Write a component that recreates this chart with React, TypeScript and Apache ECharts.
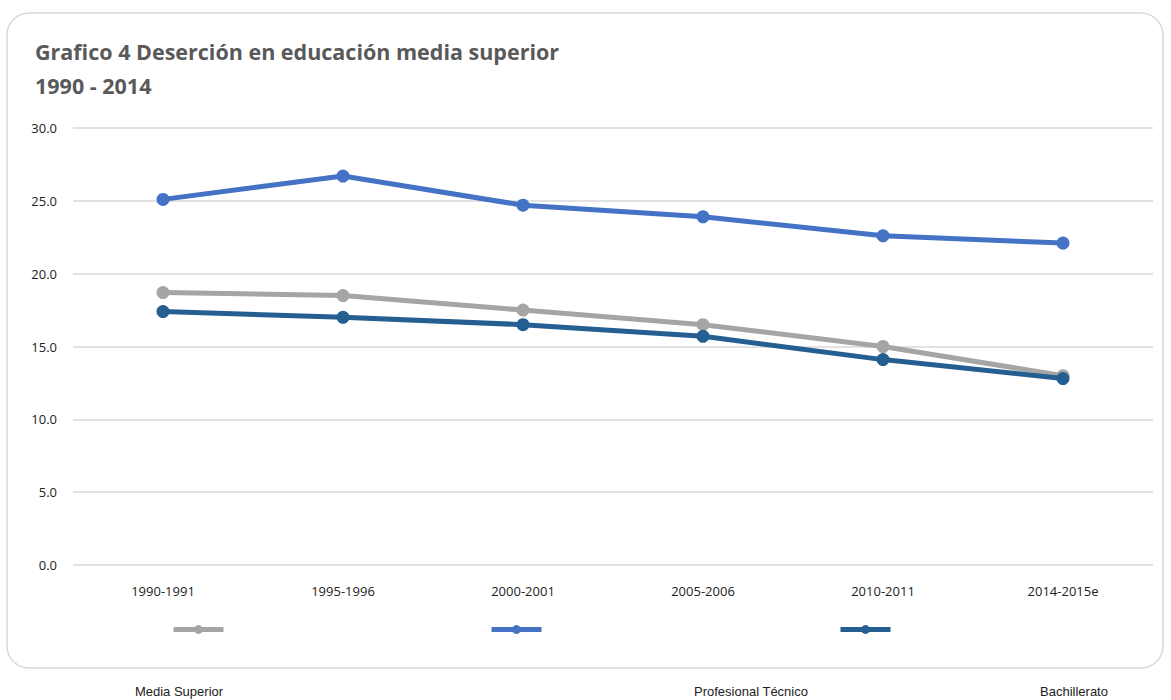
import React, { useEffect, useRef } from "react";
import * as echarts from "echarts";

const categories = ["1990-1991", "1995-1996", "2000-2001", "2005-2006", "2010-2011", "2014-2015e"];
const seriesNames = ["Media Superior", "Profesional Técnico", "Bachillerato"];
const mediaSuperior = [18.7, 18.5, 17.5, 16.5, 15.0, 13.0];
const profesionalTecnico = [25.1, 26.7, 24.7, 23.9, 22.6, 22.1];
const bachillerato = [17.4, 17.0, 16.5, 15.7, 14.1, 12.8];
const colors = ["#A5A5A5", "#4472C4", "#255E91"];
const titleText = "Grafico 4 Deserción en educación media superior\n1990 - 2014";

export default function App() {
  const ref = useRef<HTMLDivElement>(null);
  useEffect(() => {
    if (!ref.current) return;
    const chart = echarts.init(ref.current, undefined, { renderer: "svg" });
    const font = "'Open Sans', 'Liberation Sans', sans-serif";
    const dataSets = [mediaSuperior, profesionalTecnico, bachillerato];
    const legendLefts = [166, 484, 833];
    const nameXs = [179, 751, 1074];
    chart.setOption({
      animation: false,
      backgroundColor: "#ffffff",
      textStyle: { fontFamily: font },
      title: {
        text: titleText,
        left: 30,
        top: 29,
        textStyle: { fontSize: 21.5, fontWeight: "bold", color: "#595959", lineHeight: 34, fontFamily: font },
      },
      grid: { left: 73, right: 18, top: 128, bottom: 135, containLabel: false },
      xAxis: {
        type: "category",
        data: categories,
        boundaryGap: true,
        axisLine: { show: false },
        axisTick: { show: false },
        axisLabel: { color: "#222", fontSize: 13, margin: 19 },
      },
      yAxis: {
        type: "value",
        min: 0,
        max: 30,
        interval: 5,
        axisLabel: { color: "#222", fontSize: 13, margin: 16, formatter: (v: number) => v.toFixed(1) },
        splitLine: { lineStyle: { color: "#d9d9d9", width: 1.5 } },
        axisLine: { show: false },
        axisTick: { show: false },
      },
      legend: seriesNames.map((n, i) => ({
        data: [n],
        left: legendLefts[i],
        top: 619,
        itemWidth: 50,
        itemHeight: 11,
        formatter: () => "",
        selectedMode: false,
        lineStyle: { width: 5 },
      })),
      graphic: [
        {
          type: "rect",
          shape: { x: 7, y: 13, width: 1156, height: 655, r: 22 },
          style: { fill: "none", stroke: "#d9d9d9", lineWidth: 1.5 },
          z: -1,
        },
        ...seriesNames.map((n, i) => ({
          type: "text",
          x: nameXs[i],
          y: 691,
          style: {
            text: n,
            fontSize: 13,
            fill: "#222",
            font: `13px ${font}`,
            textAlign: "center",
            textVerticalAlign: "middle",
          },
        })),
      ],
      series: seriesNames.map((n, i) => ({
        name: n,
        type: "line",
        data: dataSets[i],
        symbol: "circle",
        symbolSize: 13,
        color: colors[i],
        lineStyle: { width: 5, color: colors[i] },
        itemStyle: { color: colors[i] },
        z: i === 0 ? 2 : 3,
      })),
    });
    return () => chart.dispose();
  }, []);
  return <div ref={ref} style={{ position: "absolute", left: 0, top: 0, width: 1171, height: 700 }} />;
}
